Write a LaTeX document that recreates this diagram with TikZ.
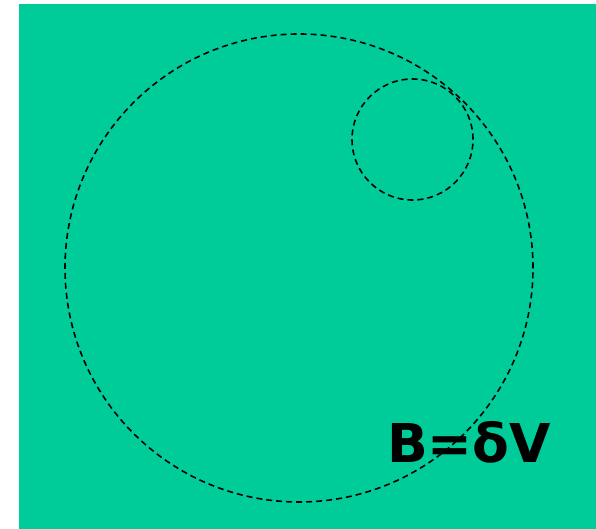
\documentclass[tikz,border=0pt]{standalone}
\usepackage{fontspec}
\setmainfont{DejaVu Sans}
\begin{document}
\begin{tikzpicture}[x=1pt,y=-1pt,
  ring/.style={draw=black,line width=1.6pt,dash pattern=on 6pt off 4pt},
  lbl/.style={font=\fontsize{53.5}{60}\selectfont\bfseries,inner sep=0pt,anchor=base west}]
\useasboundingbox (0,0) rectangle (596,529);
\fill[fill={rgb,255:red,0;green,204;blue,153}] (19,4) rectangle (596,529);
\node[ring,circle,minimum size=468pt,inner sep=0pt] (big) at (299,268) {};
\node[ring,circle,minimum size=121pt,inner sep=0pt] (small) at (412.5,139.5) {};
\node[lbl] (eq) at (387,462) {B=δV};
\end{tikzpicture}
\end{document}
